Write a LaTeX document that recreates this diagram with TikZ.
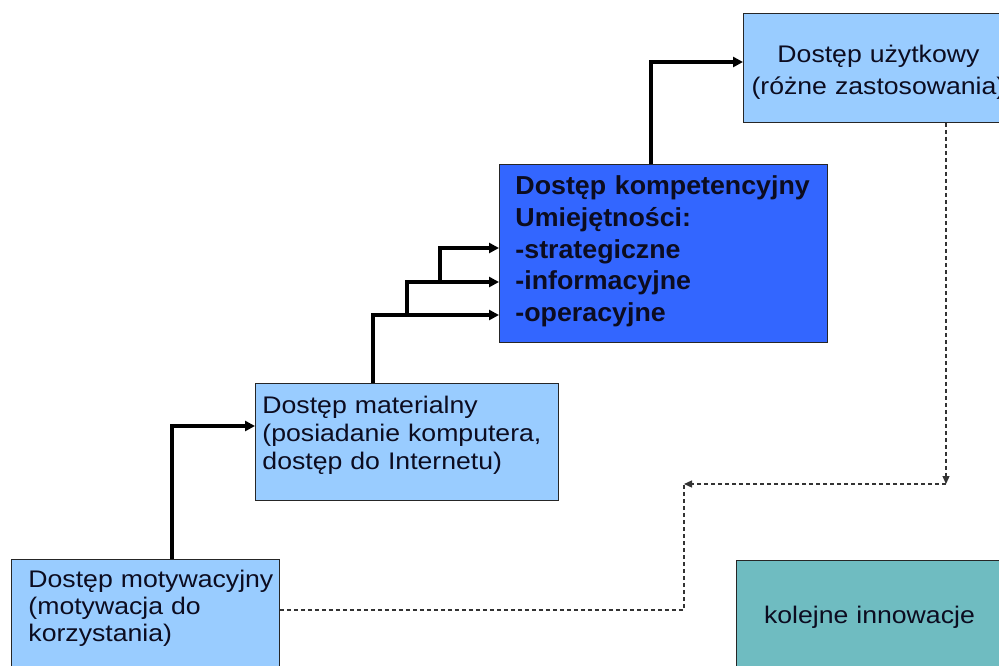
\documentclass[tikz,border=0pt]{standalone}
\usepackage{fontspec}
\setmainfont[FakeStretch=1.11]{Liberation Sans}
\newfontfamily\skillfont[FakeStretch=1.03]{Liberation Sans}
\usepackage{tikz}
\usetikzlibrary{arrows.meta, calc}
\usepackage{xcolor}

\definecolor{stageblue}{RGB}{153,204,255}
\definecolor{skillblue}{RGB}{51,102,255}
\definecolor{nextteal}{RGB}{111,188,193}
\definecolor{inkdark}{RGB}{12,12,32}

\tikzset{
  stage/.style={draw=black!85, line width=0.9pt, fill=stageblue, anchor=north west,
    inner ysep=0pt, align=left, text=inkdark, font=\fontsize{24}{27}\selectfont},
  flow/.style={line width=3.2pt, -{Triangle[length=10pt,width=10pt]}},
  backflow/.style={draw=black!80, line width=1.2pt, dash pattern=on 4pt off 3pt,
    -{Triangle[length=8pt,width=7pt]}}
}

\begin{document}
\begin{tikzpicture}[x=1pt, y=-1pt]
  \useasboundingbox (0,0) rectangle (999,665);

  % the steps, bottom to top
  \node[stage, inner xsep=17pt, text width=234pt, text height=28pt, text depth=120pt]
    (motyw) at (11,559) {\mbox{Dostęp motywacyjny}\\(motywacja do\\korzystania)};
  \node[stage, inner xsep=7pt, text width=289pt, text height=30pt, text depth=87pt,
        font=\fontsize{24}{28}\selectfont]
    (mater) at (255,383) {Dostęp materialny\\(posiadanie komputera,\\dostęp do Internetu)};
  \node[stage, fill=skillblue, inner xsep=16pt, text width=296pt, text height=30pt, text depth=148pt,
        font=\skillfont\bfseries\fontsize{26}{31.8}\selectfont]
    (kompet) at (499,164) {Dostęp kompetencyjny\\Umiejętności:\\-strategiczne\\-informacyjne\\-operacyjne};
  \node[stage, align=center, inner xsep=5pt, text width=260pt, text height=49pt, text depth=60pt,
        font=\fontsize{24}{32}\selectfont]
    (uzyt) at (743,13) {Dostęp użytkowy\\(różne zastosowania)};
  \node[stage, fill=nextteal, align=center, inner xsep=5pt, text width=256pt, text height=63pt, text depth=100pt]
    (kolej) at (736,560) {kolejne innowacje};

  \coordinate (fork1) at (407,315);
  \coordinate (fork2) at (440,282);
  \coordinate (turn) at (946,484);
  \coordinate (join) at (684,484);

  % solid steps
  \draw[flow] ([xshift=161pt]motyw.north west) |- ([yshift=-43pt]mater.north west);
  \draw[flow] ([xshift=118pt]mater.north west) |- ([yshift=-151pt]kompet.north west);
  \draw[flow] (fork1) |- ([yshift=-118pt]kompet.north west);
  \draw[flow] (fork2) |- ([yshift=-84pt]kompet.north west);
  \draw[flow] ([xshift=152pt]kompet.north west) |- ([yshift=-49pt]uzyt.north west);

  % dashed way back
  \draw[backflow] ([xshift=203pt]uzyt.south west) -- (turn);
  \draw[backflow] (turn) -- (join);
  \draw[backflow, -] ([yshift=-51pt]motyw.north east) -| (join);
\end{tikzpicture}
\end{document}
